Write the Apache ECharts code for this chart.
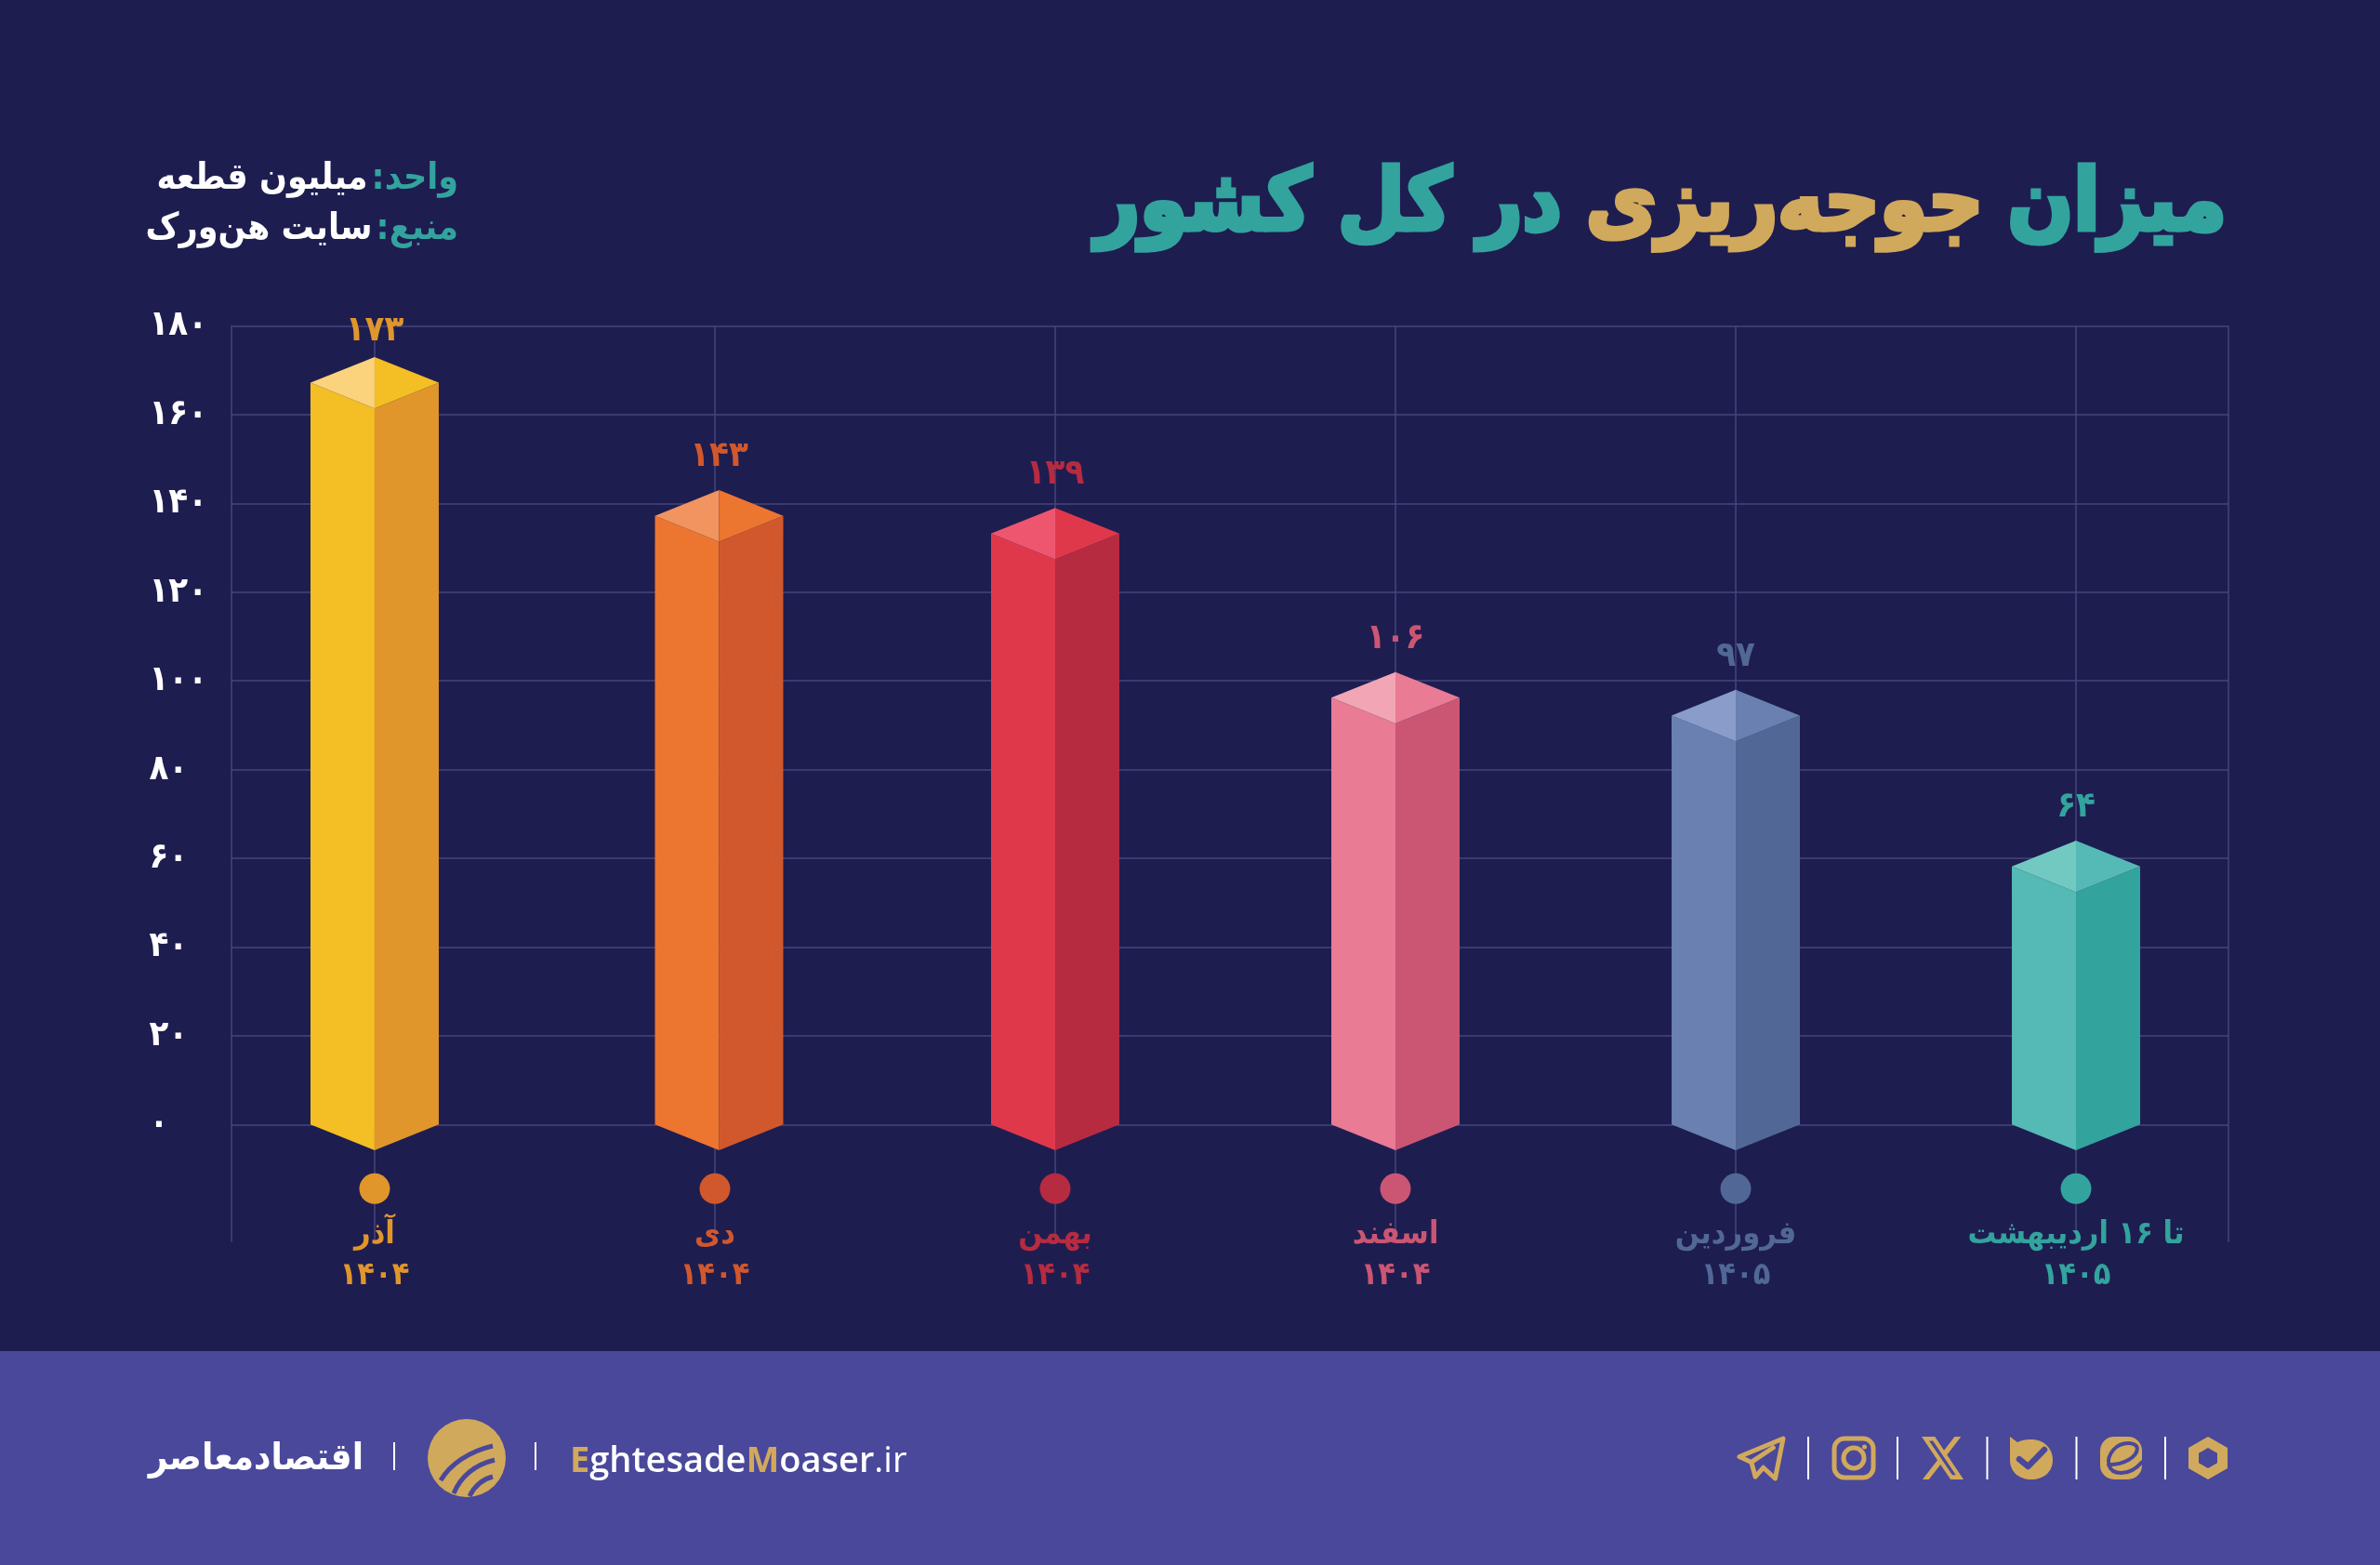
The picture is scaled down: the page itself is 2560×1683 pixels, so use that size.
<!DOCTYPE html>
<html lang="fa">
<head>
<meta charset="utf-8">
<title>میزان جوجه‌ریزی در کل کشور</title>
<script src="https://cdn.jsdelivr.net/npm/echarts@6/dist/echarts.min.js"></script>
<style>html,body{margin:0;padding:0;background:#1e1d50}#c{width:2560px;height:1683px}</style>
</head>
<body>
<div id="c"></div>
<script>
const months = ['آذر', 'دی', 'بهمن', 'اسفند', 'فروردین', 'تا ۱۶ اردیبهشت'];
const years = ['۱۴۰۴', '۱۴۰۴', '۱۴۰۴', '۱۴۰۴', '۱۴۰۵', '۱۴۰۵'];
// Printed value above each bar.
const valueLabels = ['۱۷۳', '۱۴۳', '۱۳۹', '۱۰۶', '۹۷', '۶۴'];
// Bar heights as drawn against the axis (the reference draws the "۱۰۶" bar near 102).
const barHeights = [173, 143, 139, 102, 98, 64];
const yTicks = [0, 20, 40, 60, 80, 100, 120, 140, 160, 180];
const yTickLabels = ['۰', '۲۰', '۴۰', '۶۰', '۸۰', '۱۰۰', '۱۲۰', '۱۴۰', '۱۶۰', '۱۸۰'];

const frontColors = ['#F4BE25', '#EC7530', '#E0384B', '#E97B94', '#6A80B0', '#55B9B5'];
const sideColors = ['#E0962B', '#D1582C', '#B72B40', '#CB5673', '#516896', '#33A39E'];
const lightColors = ['#FBD37C', '#F2945F', '#EE5670', '#F1A5B5', '#8A9CC9', '#72C9C2'];

const BG = '#1e1d50', BAND = '#4a489b', TEAL = '#33a39e', GOLD = '#d1a95c', GRID = '#46457c';
const FONT = '"DejaVu Sans Condensed","DejaVu Sans",sans-serif';

const xTicks = months.map((_, i) => i);
const xMin = -0.422, xMax = 5.448;

function renderBar(params, api) {
  const i = api.value(0);
  const top = api.coord([i, api.value(1)]);
  const base = api.coord([i, 0]);
  // In the reference the second bar sits slightly right of its gridline and dot.
  const cx = base[0], x = cx + (i === 1 ? 4.5 : 0), w = 69, d = 27.7;
  const yt = top[1], y0 = base[1];
  const poly = (points, fill) => ({type: 'polygon', shape: {points}, style: {fill}});
  return {
    type: 'group',
    children: [
      poly([[x - w, yt + d], [x, yt + 2 * d], [x, y0 + d], [x - w, y0]], frontColors[i]),
      poly([[x + w, yt + d], [x, yt + 2 * d], [x, y0 + d], [x + w, y0]], sideColors[i]),
      poly([[x - w, yt + d], [x, yt], [x, yt + 2 * d]], lightColors[i]),
      poly([[x + w, yt + d], [x, yt], [x, yt + 2 * d]], frontColors[i]),
      {type: 'circle', shape: {cx, cy: y0 + 69, r: 16.5}, style: {fill: sideColors[i]}},
      {type: 'text', style: {
        x: x, y: Math.max(yt - 36, 356), text: valueLabels[i], fill: sideColors[i],
        font: 'bold 38px ' + FONT, textAlign: 'center', textVerticalAlign: 'middle'
      }}
    ]
  };
}

const icon = (pathData, x, y, width, height, style) =>
  ({type: 'path', shape: {pathData, x, y, width, height, layout: 'cover'}, style});
const stroke = (w) => ({fill: 'none', stroke: GOLD, lineWidth: w, lineJoin: 'round', lineCap: 'round'});
const sepLine = (x, y1, y2) => ({type: 'line', shape: {x1: x, y1, x2: x, y2}, style: {stroke: '#ffffff', lineWidth: 2}});

const footerPaths = [
  icon('M0 37 C 10 20 30 6 56 0 M14 51 C 22 32 38 20 58 15 M31 54 C 36 44 44 36 56 33', 474, 1555, 58, 54, {fill: 'none', stroke: BAND, lineWidth: 5}),
  icon('M1 11 L23 1 L19 23 L13 17 L9 22 L7 14 Z M7 14 L18 6', 1871, 1547, 47, 43, stroke(5)),
  icon('M18.244 2.25h3.308l-7.227 8.26 8.502 11.24H16.17l-5.214-6.817L4.99 21.75H1.68l7.73-8.835L1.254 2.25H8.08l4.713 6.231zm-1.161 17.52h1.833L7.084 4.126H5.117z', 2067, 1545, 45, 46, {fill: GOLD}),
  icon('M0 0 L8 6 C 12 4 16 3 23 3 C 36 3 46 12 46 25 C 46 38 36 46 23 46 C 10 46 0 38 0 25 Z', 2162, 1545, 46, 46, {fill: GOLD}),
  icon('M0 8 L7 14 L20 0', 2172, 1559, 27, 18, {fill: 'none', stroke: BAND, lineWidth: 6.5, lineCap: 'round', lineJoin: 'round'}),
  icon('M4 18 C 14 18 22 12 22 6 C 22 1 12 0 7 7 C 2 14 3 24 12 24 C 18 24 22 20 25 16', 2268, 1552, 36, 32, {fill: 'none', stroke: BAND, lineWidth: 4, lineCap: 'round'}),
  icon('M21 0 L42 12 L42 34 L21 46 L0 34 L0 12 Z', 2354, 1545, 42, 46, {fill: GOLD}),
  icon('M21 0 L42 12 L42 34 L21 46 L0 34 L0 12 Z', 2365, 1557, 20, 22, {fill: BAND})
];

const noteFont = 'bold 39px ' + FONT;
const graphics = [
  {type: 'rect', shape: {x: 0, y: 1453, width: 2560, height: 230}, style: {fill: BAND}},
  {type: 'text', style: {x: 391, y: 1570, text: 'اقتصادمعاصر', fill: '#fff', font: 'bold 40px ' + FONT, textAlign: 'right', textVerticalAlign: 'middle'}},
  sepLine(424, 1551, 1581),
  sepLine(576, 1551, 1581),
  {type: 'circle', shape: {cx: 502, cy: 1568, r: 42}, style: {fill: GOLD}},
  {type: 'text', style: {
    x: 613, y: 1572, text: '{g|E}{w|ghtesade}{g|M}{w|oaser}{l|.ir}', textVerticalAlign: 'middle', textAlign: 'left',
    rich: {
      g: {fill: GOLD, font: '700 38px "Open Sans"'},
      w: {fill: '#fff', font: '600 38px "Open Sans"'},
      l: {fill: '#fff', font: '400 38px "Open Sans"'}
    }
  }},
  sepLine(1945, 1545, 1591), sepLine(2041, 1545, 1591), sepLine(2137.5, 1545, 1591), sepLine(2233.5, 1545, 1591), sepLine(2329, 1545, 1591),
  {type: 'rect', shape: {x: 1973, y: 1547, width: 42, height: 42, r: 11}, style: stroke(5)},
  {type: 'circle', shape: {cx: 1994, cy: 1568, r: 11}, style: stroke(5)},
  {type: 'circle', shape: {cx: 2005.5, cy: 1556, r: 2.5}, style: {fill: GOLD}},
  {type: 'rect', shape: {x: 2259, y: 1545, width: 45, height: 46, r: 15}, style: {fill: GOLD}},
  {type: 'text', style: {
    x: 493, y: 193, text: '{w|میلیون قطعه}{t|واحد:\u200f}', textAlign: 'right', textVerticalAlign: 'middle',
    rich: {w: {fill: '#fff', font: noteFont}, t: {fill: TEAL, font: noteFont, padding: [0, 0, 0, 4]}}
  }},
  {type: 'text', style: {
    x: 493, y: 247, text: '{w|سایت هن‌ورک}{t|منبع:\u200f}', textAlign: 'right', textVerticalAlign: 'middle',
    rich: {w: {fill: '#fff', font: noteFont}, t: {fill: TEAL, font: noteFont, padding: [0, 0, 0, 4]}}
  }}
];

const chart = echarts.init(document.getElementById('c'), null, {renderer: 'canvas', width: 2560, height: 1683});
const titleToken = (color) => ({fontFamily: FONT, fontWeight: 'bold', fontSize: 92, color, textBorderColor: color, textBorderWidth: 5});
chart.setOption({
  animation: false,
  backgroundColor: BG,
  textStyle: {fontFamily: FONT},
  title: {
    right: 155, top: 172,
    text: '{t|در کل کشور}{g|جوجه‌ریزی}{t|میزان}',
    textStyle: {
      rich: {
        t: titleToken(TEAL),
        g: Object.assign(titleToken(GOLD), {padding: [0, 26, 0, 26]})
      }
    }
  },
  graphic: {elements: graphics},
  grid: {left: 248.5, top: 350.5, width: 2148.5, height: 985.3, containLabel: false},
  xAxis: {
    type: 'value', min: xMin, max: xMax,
    axisLine: {show: false},
    axisTick: {show: false, customValues: [xMin].concat(xTicks, [xMax])},
    splitLine: {show: true, lineStyle: {color: GRID, width: 1.5}},
    axisLabel: {
      customValues: xTicks, margin: -30, lineHeight: 44,
      fontFamily: FONT, fontWeight: 'bold', fontSize: 34,
      color: (v) => sideColors[v],
      formatter: (v) => months[v] + '\n' + years[v]
    }
  },
  yAxis: {
    type: 'value', min: -26.5, max: 180,
    axisLine: {show: false},
    axisTick: {show: false, customValues: yTicks},
    splitLine: {show: true, lineStyle: {color: GRID, width: 1.5}},
    axisLabel: {
      customValues: yTicks, margin: 88, align: 'left',
      color: '#fff', fontFamily: FONT, fontWeight: 'bold', fontSize: 38,
      formatter: (v) => yTickLabels[yTicks.indexOf(v)]
    }
  },
  series: [{
    type: 'custom', clip: false,
    data: barHeights.map((v, i) => [i, v]),
    encode: {x: 0, y: 1},
    renderItem: renderBar
  }, {
    type: 'custom', coordinateSystem: 'none', silent: true,
    data: [[0]],
    renderItem: () => ({type: 'group', children: footerPaths})
  }]
});
</script>
</body>
</html>
